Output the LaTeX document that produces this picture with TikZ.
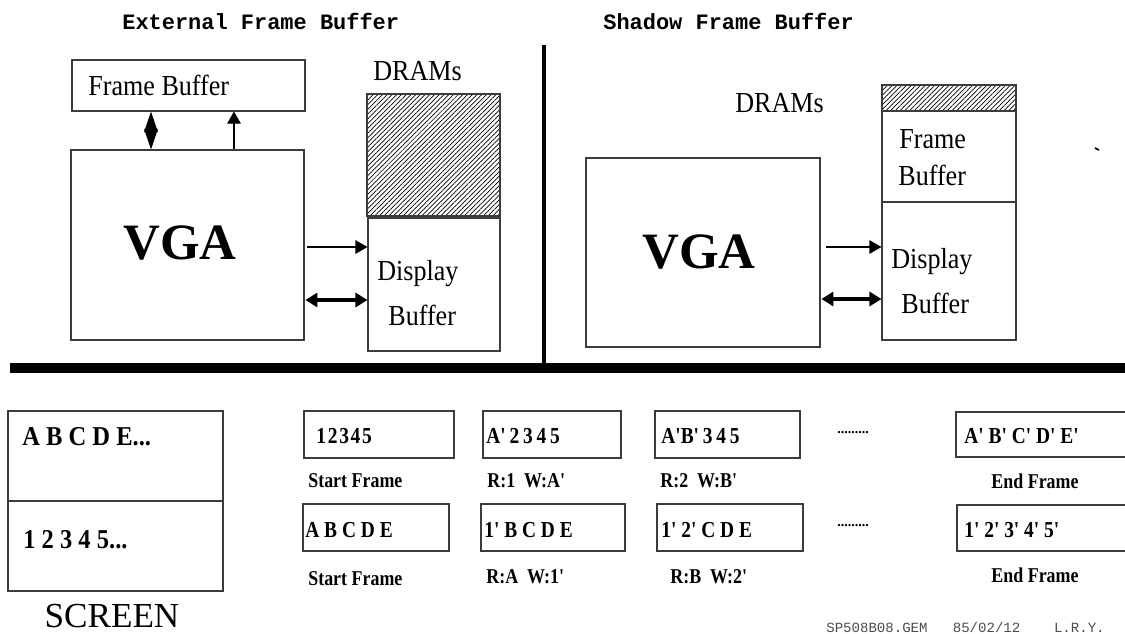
\documentclass[tikz,border=0pt]{standalone}
\usepackage{fontspec}
\setmainfont{Liberation Serif}
\newfontfamily\typefont{Liberation Mono}
\newfontfamily\narrowfont[FakeStretch=0.9]{Liberation Serif}
\newfontfamily\cellfont[FakeStretch=0.85]{Liberation Serif}
\usetikzlibrary{arrows.meta,positioning,fit,patterns.meta}
\definecolor{boxgray}{RGB}{60,60,60}
\tikzset{
 box/.style={draw=boxgray, line width=0.6pt, inner sep=0pt},
 hatched/.style={box, pattern={Lines[angle=45,distance=1.9pt,line width=0.4pt]}},
 heading/.style={font=\typefont\bfseries\fontsize{12.5}{14}\selectfont, inner sep=0pt},
 boxtext/.style={font=\narrowfont\fontsize{16.5}{18}\selectfont, inner sep=0pt},
 chiptext/.style={font=\bfseries\fontsize{29}{32}\selectfont, inner sep=0pt},
 screentext/.style={font=\narrowfont\bfseries\fontsize{15.5}{17}\selectfont, inner sep=0pt},
 celltext/.style={font=\cellfont\bfseries\fontsize{13}{15}\selectfont, inner sep=0pt},
 note/.style={font=\cellfont\bfseries\fontsize{12}{14}\selectfont, inner sep=0pt},
 thinarrow/.style={-{Triangle[length=0.24cm,width=0.27cm]}, line width=0.6pt},
 busarrow/.style={{Triangle[length=0.24cm,width=0.28cm]}-{Triangle[length=0.24cm,width=0.28cm]}, line width=1.8pt},
 diamondlink/.style={{Triangle[length=0.41cm,width=0.27cm]}-{Triangle[length=0.41cm,width=0.27cm]}, line width=0.6pt}
}

\begin{document}
\begin{tikzpicture}[x=0.02cm, y=-0.02cm]
 \clip (0,0) rectangle (1125,633);
 \useasboundingbox (0,0) rectangle (1125,633);

 % external frame buffer
 \node[heading, anchor=base west] (exthead) at (122,29) {External Frame Buffer};
 \node[box, fit={(72,60) (305,111)}] (fbuf) {};
 \node[boxtext, anchor=base west] (fbuftext) at (88,95) {Frame Buffer};
 \node[box, fit={(71,150) (304,340)}] (vga) {};
 \node[chiptext, anchor=base] (vgatext) at (180,259) {VGA};
 \node[boxtext, anchor=base west] (drams) at (373,80) {DRAMs};
 \node[hatched, fit={(367,94) (500,216)}] (hatch) {};
 \node[box, fit={(368,218) (500,351)}] (dbuf) {};
 \node[boxtext, anchor=base west] (dbuftext) at (377,280) {Display};
 \node[boxtext, anchor=base west] (dbuftextb) at (388,325) {Buffer};

 \draw[diamondlink] (151,0 |- fbuf.south) -- (151,0 |- vga.north);
 \draw[thinarrow] (234,0 |- vga.north) -- (234,0 |- fbuf.south);
 \draw[thinarrow, shorten <=1.5pt] (vga.east |- 0,247) -- (dbuf.west |- 0,247);
 \draw[busarrow, shorten <=0.5pt] (vga.east |- 0,300) -- (dbuf.west |- 0,300);

 % shadow frame buffer
 \node[heading, anchor=base west] (shdhead) at (603,29) {Shadow Frame Buffer};
 \node[boxtext, anchor=base west] (sdrams) at (735,112) {DRAMs};
 \node[hatched, fit={(882,85) (1016,111)}] (shatch) {};
 \node[box, fit={(882,111) (1016,202)}] (sfbuf) {};
 \node[boxtext, anchor=base west] (sfbuftext) at (899,148) {Frame};
 \node[boxtext, anchor=base west] (sfbuftextb) at (898,185) {Buffer};
 \node[box, fit={(882,202) (1016,340)}] (sdbuf) {};
 \node[boxtext, anchor=base west] (sdbuftext) at (891,268) {Display};
 \node[boxtext, anchor=base west] (sdbuftextb) at (901,313) {Buffer};
 \node[box, fit={(586,158) (820,347)}] (svga) {};
 \node[chiptext, anchor=base] (svgatext) at (699,268) {VGA};

 \draw[thinarrow, shorten <=3pt] (svga.east |- 0,247) -- (sdbuf.west |- 0,247);
 \draw[busarrow, shorten <=0.5pt] (svga.east |- 0,299) -- (sdbuf.west |- 0,299);
 \draw[line width=1pt] (1095,148) -- (1099,150);

 % dividers
 \draw[line width=2.4pt] (544,45) -- (544,368);
 \draw[line width=5.6pt] (10,368) -- (1125,368);

 % screen
 \node[box, fit={(8,411) (223,501)}] (scrtop) {};
 \node[box, fit={(8,501) (223,591)}] (scrbot) {};
 \node[screentext, anchor=base west] (scrtext) at (22,445) {A B C D E...};
 \node[screentext, anchor=base west] (scrtextb) at (23,548) {1 2 3 4 5...};
 \node[font=\fontsize{20}{23}\selectfont, inner sep=0pt, anchor=base] (screen) at (112,627) {SCREEN};

 % frames, first row
 \node[box, fit={(304,411) (454,458)}] (startA) {};
 \node[celltext, anchor=base west] at (316,443) {1\kern1pt 2\kern1pt 3\kern1pt 4\kern1pt 5};
 \node[note, anchor=base west] at (308,487) {Start Frame};
 \node[box, fit={(483,411) (621,458)}] (stepA) {};
 \node[celltext, anchor=base west] at (486,443) {A'\,2\,3\,4\,5};
 \node[note, anchor=base west] at (487,487) {R:1\ \ W:A'};
 \node[box, fit={(655,411) (800,458)}] (stepB) {};
 \node[celltext, anchor=base west] at (661,443) {A'B'\,3\,4\,5};
 \node[note, anchor=base west] at (660,487) {R:2\ \ W:B'};
 \node[font=\bfseries\fontsize{8}{9}\selectfont, inner sep=0pt, anchor=base west] (dotsA) at (837,433) {.........};
 \node[box, fit={(956,412) (1140,457)}] (endA) {};
 \node[celltext, anchor=base west] at (964,443) {A' B' C' D' E'};
 \node[note, anchor=base] at (1035,488) {End Frame};

 % frames, second row
 \node[box, fit={(303,504) (449,551)}] (startB) {};
 \node[celltext, anchor=base west] at (305,537) {A B C D E};
 \node[note, anchor=base west] at (308,585) {Start Frame};
 \node[box, fit={(481,504) (625,551)}] (stepC) {};
 \node[celltext, anchor=base west] at (484,537) {1' B C D E};
 \node[note, anchor=base west] at (486,583) {R:A\ \ W:1'};
 \node[box, fit={(657,504) (803,551)}] (stepD) {};
 \node[celltext, anchor=base west] at (661,537) {1' 2' C D E};
 \node[note, anchor=base west] at (670,583) {R:B\ \ W:2'};
 \node[font=\bfseries\fontsize{8}{9}\selectfont, inner sep=0pt, anchor=base west] (dotsB) at (837,526) {.........};
 \node[box, fit={(957,505) (1140,551)}] (endB) {};
 \node[celltext, anchor=base west] at (964,537) {1' 2' 3' 4' 5'};
 \node[note, anchor=base] at (1035,582) {End Frame};

 \node[font=\typefont\fontsize{8}{9}\selectfont, text=black!70, inner sep=0pt, anchor=base west] (footer) at (826,632) {SP508B08.GEM\ \ \ 85/02/12\ \ \ \ L.R.Y.};
\end{tikzpicture}
\end{document}
